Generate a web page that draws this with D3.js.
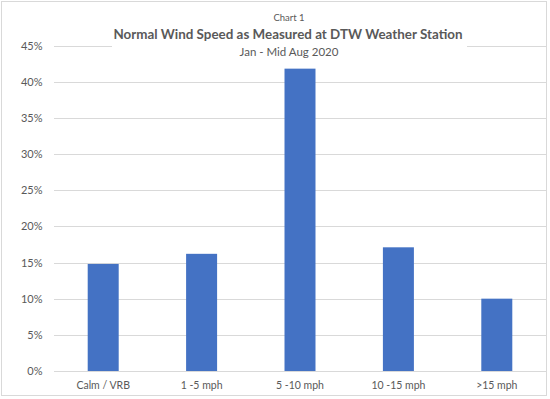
<!DOCTYPE html>
<html>
<head>
<meta charset="utf-8">
<script src="https://cdn.jsdelivr.net/npm/d3@7"></script>
<style>
  body { margin: 0; background: #fff; }
  text { font-family: Lato, "Open Sans", sans-serif; }
</style>
</head>
<body>
<div id="content"></div>
<script>
// wind speed bins and share of hours
var categories = ['Calm / VRB', '1 -5 mph', '5 -10 mph', '10 -15 mph', '>15 mph'];
var shares = [0.148, 0.162, 0.418, 0.171, 0.100];
var yTicks = [0, 0.05, 0.10, 0.15, 0.20, 0.25, 0.30, 0.35, 0.40, 0.45];

var width = 550, height = 399;
var margin = { top: 45.5, right: 4, bottom: 28, left: 54 };

var svg = d3.select('#content').append('svg')
  .attr('width', width)
  .attr('height', height);

// chart border
svg.append('rect')
  .attr('x', 1.5).attr('y', 1.5)
  .attr('width', 545).attr('height', 394)
  .attr('fill', '#fff')
  .attr('stroke', '#d9d9d9');

var x = d3.scaleBand()
  .domain(categories)
  .range([margin.left, width - margin.right]);

var y = d3.scaleLinear()
  .domain([0, 0.45])
  .range([height - margin.bottom, margin.top]);

// gridlines
svg.append('g')
  .selectAll('line')
  .data(yTicks)
  .enter().append('line')
  .attr('x1', margin.left)
  .attr('x2', width - margin.right)
  .attr('y1', function(d) { return Math.round(y(d)) + 0.5; })
  .attr('y2', function(d) { return Math.round(y(d)) + 0.5; })
  .attr('stroke', '#d9d9d9')
  .attr('stroke-width', 1);

// y labels
svg.append('g')
  .selectAll('text')
  .data(yTicks)
  .enter().append('text')
  .attr('x', 42.5)
  .attr('y', function(d) { return y(d) + 4; })
  .attr('text-anchor', 'end')
  .attr('font-size', '11px')
  .attr('fill', '#595959')
  .text(d3.format('.0%'));

// bars
var barW = x.bandwidth() * 0.315;
svg.append('g')
  .selectAll('rect')
  .data(shares)
  .enter().append('rect')
  .attr('x', function(d, i) { return x(categories[i]) + (x.bandwidth() - barW) / 2; })
  .attr('y', function(d) { return y(d); })
  .attr('width', barW)
  .attr('height', function(d) { return y(0) - y(d); })
  .attr('fill', '#4472c4');

// x labels
svg.append('g')
  .selectAll('text')
  .data(categories)
  .enter().append('text')
  .attr('x', function(d) { return x(d) + x.bandwidth() / 2; })
  .attr('y', 389)
  .attr('text-anchor', 'middle')
  .attr('font-size', '10.5px')
  .attr('fill', '#595959')
  .text(function(d) { return d; });

// title block, white box hides the top gridline
svg.append('rect')
  .attr('x', 112).attr('y', 26)
  .attr('width', 355).attr('height', 36)
  .attr('fill', '#fff');

svg.append('text')
  .attr('x', 289).attr('y', 21)
  .attr('text-anchor', 'middle')
  .attr('font-size', '9.5px')
  .attr('fill', '#595959')
  .text('Chart 1');

svg.append('text')
  .attr('x', 288).attr('y', 38.5)
  .attr('text-anchor', 'middle')
  .attr('font-size', '14px')
  .attr('font-weight', 'bold')
  .attr('fill', '#595959')
  .attr('textLength', 349)
  .attr('lengthAdjust', 'spacingAndGlyphs')
  .text('Normal Wind Speed as Measured at DTW Weather Station');

svg.append('text')
  .attr('x', 289).attr('y', 55.5)
  .attr('text-anchor', 'middle')
  .attr('font-size', '11.5px')
  .attr('fill', '#595959')
  .text('Jan - Mid Aug 2020');
</script>
</body>
</html>
